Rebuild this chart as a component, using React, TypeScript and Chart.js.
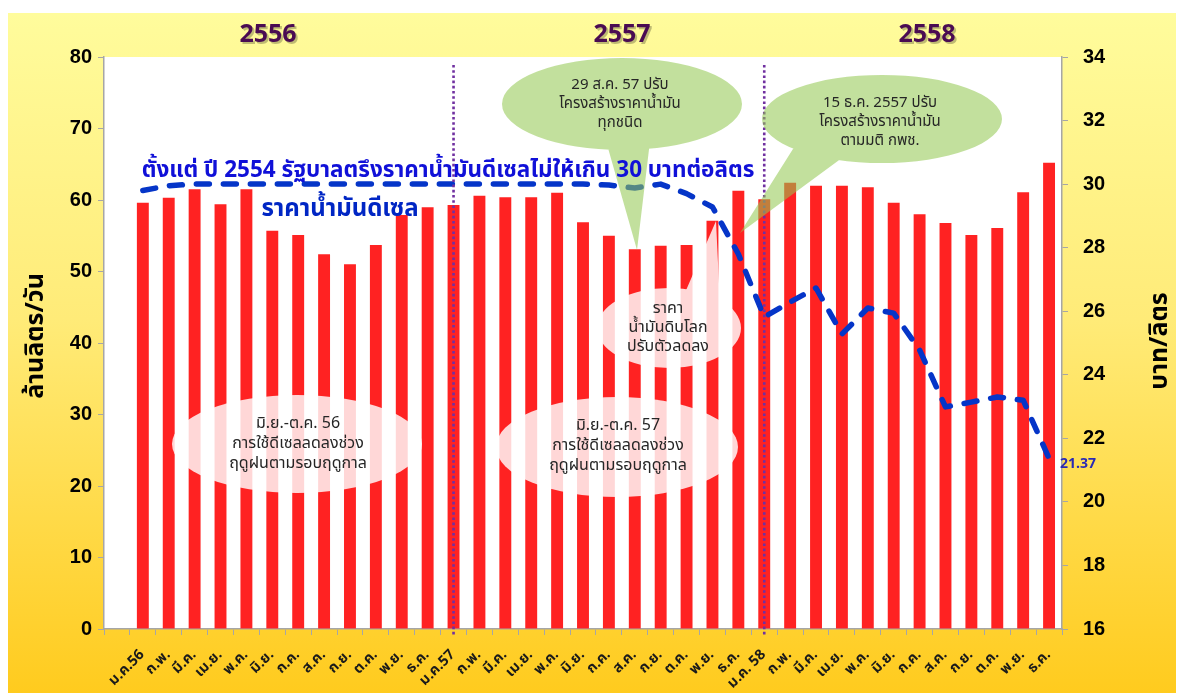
import React, { useEffect, useRef } from 'react';
import { Chart, registerables } from 'chart.js';

Chart.register(...registerables);

const categories = [
  'ม.ค.56', 'ก.พ.', 'มี.ค.', 'เม.ย.', 'พ.ค.', 'มิ.ย.', 'ก.ค.', 'ส.ค.', 'ก.ย.', 'ต.ค.', 'พ.ย.', 'ธ.ค.',
  'ม.ค.57', 'ก.พ.', 'มี.ค.', 'เม.ย.', 'พ.ค.', 'มิ.ย.', 'ก.ค.', 'ส.ค.', 'ก.ย.', 'ต.ค.', 'พ.ย.', 'ธ.ค.',
  'ม.ค. 58', 'ก.พ.', 'มี.ค.', 'เม.ย.', 'พ.ค.', 'มิ.ย.', 'ก.ค.', 'ส.ค.', 'ก.ย.', 'ต.ค.', 'พ.ย.', 'ธ.ค.',
];

// ล้านลิตร/วัน
const dieselUse = [
  59.6, 60.3, 61.5, 59.4, 61.5, 55.7, 55.1, 52.4, 51.0, 53.7, 57.9, 59.0,
  59.3, 60.6, 60.4, 60.4, 61.0, 56.9, 55.0, 53.1, 53.6, 53.7, 57.1, 61.3,
  60.1, 62.4, 62.0, 62.0, 61.8, 59.6, 58.0, 56.8, 55.1, 56.1, 61.1, 65.2,
];

// บาท/ลิตร
const dieselPrice = [
  29.8, 29.95, 30.0, 30.0, 30.0, 30.0, 30.0, 30.0, 30.0, 30.0, 30.0, 30.0,
  30.0, 30.0, 30.0, 30.0, 30.0, 30.0, 29.97, 29.88, 30.0, 29.7, 29.28, 27.8,
  25.82, 26.29, 26.73, 25.28, 26.1, 25.94, 24.78, 22.99, 23.14, 23.3, 23.2, 21.37,
];

const leftAxis = { min: 0, max: 80, step: 10 };
const rightAxis = { min: 16, max: 34, step: 2 };
const yearLabels = ['2556', '2557', '2558'];
const yearStartLabels = ['ม.ค.57', 'ม.ค. 58'];

const THAI = "Tahoma, 'Noto Sans Thai', 'Leelawadee UI', 'Noto Sans', 'DejaVu Sans', sans-serif";

function bubble(ctx: CanvasRenderingContext2D, cx: number, cy: number, rx: number, ry: number,
  tail: number[][] | null, fill: string) {
  ctx.beginPath();
  ctx.ellipse(cx, cy, rx, ry, 0, 0, Math.PI * 2, false);
  if (tail) {
    let [a, b, c] = tail;
    const cross = (b[0] - a[0]) * (c[1] - a[1]) - (b[1] - a[1]) * (c[0] - a[0]);
    if (cross < 0) { const t = b; b = c; c = t; }
    ctx.moveTo(a[0], a[1]);
    ctx.lineTo(b[0], b[1]);
    ctx.lineTo(c[0], c[1]);
    ctx.closePath();
  }
  ctx.fillStyle = fill;
  ctx.fill('nonzero');
}

function lines(ctx: CanvasRenderingContext2D, texts: string[], cx: number, cy: number, lh: number) {
  const n = texts.length;
  texts.forEach((t, i) => ctx.fillText(t, cx, cy + (i - (n - 1) / 2) * lh));
}

const overlayPlugin = {
  id: 'overlay',
  beforeDraw(chart: any) {
    const { ctx, chartArea: a } = chart;
    ctx.save();
    ctx.fillStyle = '#ffffff';
    ctx.fillRect(a.left, a.top, a.right - a.left, a.bottom - a.top);
    ctx.restore();
  },
  afterDatasetsDraw(chart: any) {
    const { ctx } = chart;
    const xs = chart.scales.x;
    const labels = chart.data.labels as string[];
    ctx.save();

    // year divider dotted lines
    ctx.strokeStyle = '#7030A0';
    ctx.lineWidth = 2.6;
    ctx.setLineDash([2.6, 2.6]);
    yearStartLabels.forEach((lab) => {
      const idx = labels.indexOf(lab);
      const x = xs.getPixelForValue(idx);
      ctx.beginPath();
      ctx.moveTo(x, 52);
      ctx.lineTo(x, chart.chartArea.bottom + 7);
      ctx.stroke();
    });
    ctx.setLineDash([]);

    // pale ellipses
    const pale = 'rgba(255,255,255,0.82)';
    bubble(ctx, 289, 431, 125, 49, null, pale);
    bubble(ctx, 609, 434, 121, 50, null, pale);
    bubble(ctx, 661, 315, 72, 40, [[676, 282], [712, 292], [708, 208]], pale);

    // green speech bubbles
    const green = 'rgba(146,200,80,0.56)';
    bubble(ctx, 614, 91, 120, 46, [[598, 128], [642, 128], [629, 237]], green);
    bubble(ctx, 874, 106, 120, 44, [[790, 128], [838, 142], [732, 220]], green);

    // texts inside bubbles
    ctx.fillStyle = '#262626';
    ctx.textAlign = 'center';
    ctx.textBaseline = 'middle';
    ctx.font = `15px ${THAI}`;
    lines(ctx, ['29 ส.ค. 57 ปรับ', 'โครงสร้างราคาน้ำมัน', 'ทุกชนิด'], 612, 92, 19);
    lines(ctx, ['15 ธ.ค. 2557 ปรับ', 'โครงสร้างราคาน้ำมัน', 'ตามมติ กพช.'], 872, 110, 19);
    ctx.font = `16px ${THAI}`;
    lines(ctx, ['ราคา', 'น้ำมันดิบโลก', 'ปรับตัวลดลง'], 660, 316, 19);
    lines(ctx, ['มิ.ย.-ต.ค. 56', 'การใช้ดีเซลลดลงช่วง', 'ฤดูฝนตามรอบฤดูกาล'], 290, 432, 20);
    lines(ctx, ['มิ.ย.-ต.ค. 57', 'การใช้ดีเซลลดลงช่วง', 'ฤดูฝนตามรอบฤดูกาล'], 610, 434, 20);

    // blue headline texts
    ctx.fillStyle = '#1010D8';
    ctx.font = `bold 22.5px ${THAI}`;
    ctx.fillText('ตั้งแต่ ปี 2554 รัฐบาลตรึงราคาน้ำมันดีเซลไม่ให้เกิน 30 บาทต่อลิตร', 440, 159);
    ctx.fillStyle = '#0026C4';
    ctx.font = `bold 24px ${THAI}`;
    ctx.fillText('ราคาน้ำมันดีเซล', 332, 198);

    // last value label
    const meta = chart.getDatasetMeta(1);
    const last = meta.data[meta.data.length - 1];
    ctx.fillStyle = '#2A2AB4';
    ctx.font = `bold 14px ${THAI}`;
    ctx.textAlign = 'left';
    ctx.fillText(String(dieselPrice[dieselPrice.length - 1]), last.x + 11, last.y + 7);

    // year labels
    ctx.font = `bold 25px 'Open Sans', sans-serif`;
    ctx.textAlign = 'center';
    const yearX = [260, 614, 919];
    yearLabels.forEach((y, i) => {
      ctx.fillStyle = 'rgba(0,0,0,0.25)';
      ctx.fillText(y, yearX[i] + 2, 24);
      ctx.fillStyle = '#4A0B52';
      ctx.fillText(y, yearX[i], 22);
    });

    // axis titles
    ctx.fillStyle = '#000000';
    ctx.font = `bold 25px ${THAI}`;
    ctx.save();
    ctx.translate(30, 323);
    ctx.rotate(-Math.PI / 2);
    ctx.fillText('ล้านลิตร/วัน', 0, 0);
    ctx.restore();
    ctx.save();
    ctx.translate(1154, 328);
    ctx.rotate(-Math.PI / 2);
    ctx.fillText('บาท/ลิตร', 0, 0);
    ctx.restore();

    ctx.restore();
  },
};

export default function App() {
  const ref = useRef<HTMLCanvasElement | null>(null);
  useEffect(() => {
    if (!ref.current) return;
    const labels = ['', ...categories];
    const chart = new Chart(ref.current, {
      type: 'bar',
      data: {
        labels,
        datasets: [
          {
            type: 'bar',
            label: 'ปริมาณการใช้ดีเซล',
            data: [null, ...dieselUse],
            backgroundColor: '#FF2222',
            borderWidth: 0,
            barPercentage: 0.46,
            categoryPercentage: 1,
            yAxisID: 'y',
            order: 2,
          },
          {
            type: 'line',
            label: 'ราคาน้ำมันดีเซล',
            data: [null, ...dieselPrice],
            borderColor: '#0535C8',
            borderWidth: 5.5,
            borderDash: [13, 14],
            borderCapStyle: 'round',
            borderJoinStyle: 'round',
            pointRadius: 0,
            tension: 0,
            fill: false,
            yAxisID: 'y1',
            order: 1,
          },
        ],
      },
      options: {
        animation: false,
        responsive: false,
        maintainAspectRatio: false,
        layout: { padding: { top: 44, left: 0, right: 0, bottom: 0 } },
        plugins: { legend: { display: false }, tooltip: { enabled: false } },
        scales: {
          x: {
            offset: true,
            grid: { display: true, drawOnChartArea: false, drawTicks: true, tickLength: 6, color: '#A6A6A6', offset: true },
            border: { display: true, color: '#A6A6A6', width: 1.5 },
            ticks: {
              autoSkip: false,
              maxRotation: 45,
              minRotation: 45,
              padding: 12,
              color: '#1a1a1a',
              font: { family: THAI, size: 14.5, weight: 'bold' },
            },
            afterFit: (s: any) => { s.height = 64; },
          },
          y: {
            position: 'left',
            min: leftAxis.min,
            max: leftAxis.max,
            ticks: { stepSize: leftAxis.step, color: '#000', padding: 6, font: { family: "'Liberation Sans', Arial, sans-serif", size: 20, weight: 'bold' } },
            grid: { display: true, drawOnChartArea: false, tickLength: 6, color: '#A6A6A6' },
            border: { display: true, color: '#A6A6A6', width: 1.5 },
            afterFit: (s: any) => { s.width = 96; },
          },
          y1: {
            position: 'right',
            min: rightAxis.min,
            max: rightAxis.max,
            ticks: { stepSize: rightAxis.step, color: '#000', padding: 15, font: { family: "'Liberation Sans', Arial, sans-serif", size: 20, weight: 'bold' } },
            grid: { display: true, drawOnChartArea: false, tickLength: 6, color: '#A6A6A6' },
            border: { display: true, color: '#A6A6A6', width: 1.5 },
            afterFit: (s: any) => { s.width = 122; },
          },
        },
      },
      plugins: [overlayPlugin],
    } as any);
    return () => chart.destroy();
  }, []);

  return (
    <div
      style={{
        marginTop: 5,
        width: 1176,
        height: 680,
        background: 'linear-gradient(to bottom, #FFFC9C 0%, #FFEB78 45%, #FFCB1E 100%)',
      }}
    >
      <canvas ref={ref} width={1176} height={680} style={{ display: 'block', width: 1176, height: 680 }} />
    </div>
  );
}
